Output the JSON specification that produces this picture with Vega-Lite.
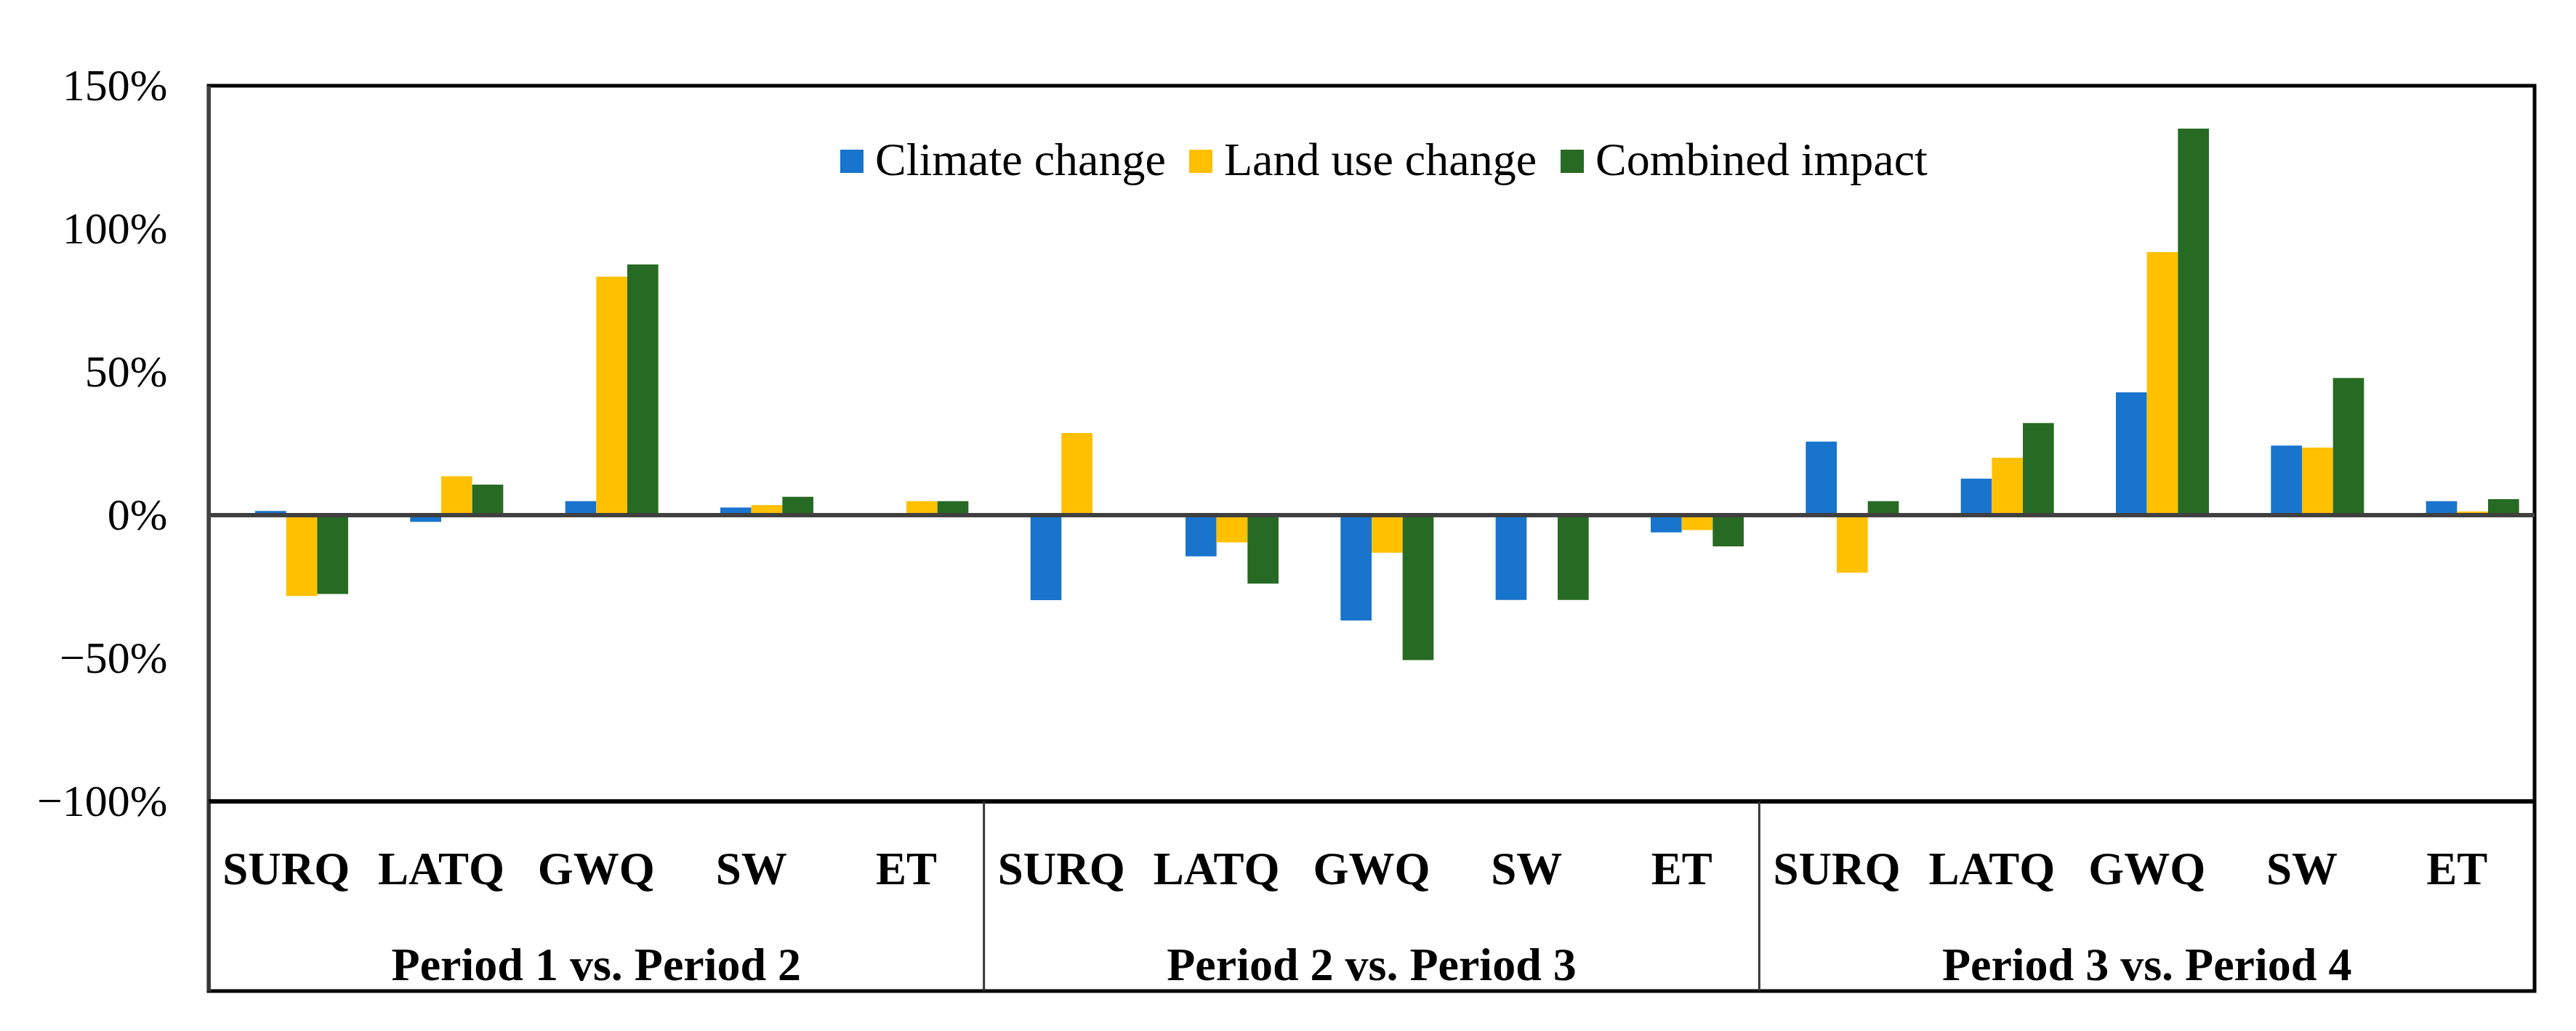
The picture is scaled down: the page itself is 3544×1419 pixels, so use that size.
{
  "$schema": "https://vega.github.io/schema/vega-lite/v6.json",
  "width": 3200,
  "height": 1246,
  "autosize": {"type": "none"},
  "padding": {"left": 287, "top": 118, "right": 57, "bottom": 55},
  "background": "white",
  "config": {"font": "Liberation Serif", "view": {"stroke": "black", "strokeWidth": 5}},
  "datasets": {
    "bars": [
      {"period": "Period 1 vs. Period 2", "category": "P1 SURQ", "series": "Climate change", "value": 1.5},
      {"period": "Period 1 vs. Period 2", "category": "P1 SURQ", "series": "Land use change", "value": -28.2},
      {"period": "Period 1 vs. Period 2", "category": "P1 SURQ", "series": "Combined impact", "value": -27.5},
      {"period": "Period 1 vs. Period 2", "category": "P1 LATQ", "series": "Climate change", "value": -2.3},
      {"period": "Period 1 vs. Period 2", "category": "P1 LATQ", "series": "Land use change", "value": 13.6},
      {"period": "Period 1 vs. Period 2", "category": "P1 LATQ", "series": "Combined impact", "value": 10.7},
      {"period": "Period 1 vs. Period 2", "category": "P1 GWQ", "series": "Climate change", "value": 4.9},
      {"period": "Period 1 vs. Period 2", "category": "P1 GWQ", "series": "Land use change", "value": 83.3},
      {"period": "Period 1 vs. Period 2", "category": "P1 GWQ", "series": "Combined impact", "value": 87.6},
      {"period": "Period 1 vs. Period 2", "category": "P1 SW", "series": "Climate change", "value": 2.7},
      {"period": "Period 1 vs. Period 2", "category": "P1 SW", "series": "Land use change", "value": 3.5},
      {"period": "Period 1 vs. Period 2", "category": "P1 SW", "series": "Combined impact", "value": 6.4},
      {"period": "Period 1 vs. Period 2", "category": "P1 ET", "series": "Climate change", "value": 0.2},
      {"period": "Period 1 vs. Period 2", "category": "P1 ET", "series": "Land use change", "value": 4.9},
      {"period": "Period 1 vs. Period 2", "category": "P1 ET", "series": "Combined impact", "value": 4.9},
      {"period": "Period 2 vs. Period 3", "category": "P2 SURQ", "series": "Climate change", "value": -29.7},
      {"period": "Period 2 vs. Period 3", "category": "P2 SURQ", "series": "Land use change", "value": 28.7},
      {"period": "Period 2 vs. Period 3", "category": "P2 SURQ", "series": "Combined impact", "value": 0},
      {"period": "Period 2 vs. Period 3", "category": "P2 LATQ", "series": "Climate change", "value": -14.4},
      {"period": "Period 2 vs. Period 3", "category": "P2 LATQ", "series": "Land use change", "value": -9.5},
      {"period": "Period 2 vs. Period 3", "category": "P2 LATQ", "series": "Combined impact", "value": -23.9},
      {"period": "Period 2 vs. Period 3", "category": "P2 GWQ", "series": "Climate change", "value": -36.8},
      {"period": "Period 2 vs. Period 3", "category": "P2 GWQ", "series": "Land use change", "value": -13.1},
      {"period": "Period 2 vs. Period 3", "category": "P2 GWQ", "series": "Combined impact", "value": -50.6},
      {"period": "Period 2 vs. Period 3", "category": "P2 SW", "series": "Climate change", "value": -29.6},
      {"period": "Period 2 vs. Period 3", "category": "P2 SW", "series": "Land use change", "value": 0},
      {"period": "Period 2 vs. Period 3", "category": "P2 SW", "series": "Combined impact", "value": -29.6},
      {"period": "Period 2 vs. Period 3", "category": "P2 ET", "series": "Climate change", "value": -6.0},
      {"period": "Period 2 vs. Period 3", "category": "P2 ET", "series": "Land use change", "value": -5.2},
      {"period": "Period 2 vs. Period 3", "category": "P2 ET", "series": "Combined impact", "value": -10.9},
      {"period": "Period 3 vs. Period 4", "category": "P3 SURQ", "series": "Climate change", "value": 25.7},
      {"period": "Period 3 vs. Period 4", "category": "P3 SURQ", "series": "Land use change", "value": -20.1},
      {"period": "Period 3 vs. Period 4", "category": "P3 SURQ", "series": "Combined impact", "value": 4.9},
      {"period": "Period 3 vs. Period 4", "category": "P3 LATQ", "series": "Climate change", "value": 12.8},
      {"period": "Period 3 vs. Period 4", "category": "P3 LATQ", "series": "Land use change", "value": 20.1},
      {"period": "Period 3 vs. Period 4", "category": "P3 LATQ", "series": "Combined impact", "value": 32.2},
      {"period": "Period 3 vs. Period 4", "category": "P3 GWQ", "series": "Climate change", "value": 42.9},
      {"period": "Period 3 vs. Period 4", "category": "P3 GWQ", "series": "Land use change", "value": 91.9},
      {"period": "Period 3 vs. Period 4", "category": "P3 GWQ", "series": "Combined impact", "value": 135.0},
      {"period": "Period 3 vs. Period 4", "category": "P3 SW", "series": "Climate change", "value": 24.3},
      {"period": "Period 3 vs. Period 4", "category": "P3 SW", "series": "Land use change", "value": 23.6},
      {"period": "Period 3 vs. Period 4", "category": "P3 SW", "series": "Combined impact", "value": 47.9},
      {"period": "Period 3 vs. Period 4", "category": "P3 ET", "series": "Climate change", "value": 4.9},
      {"period": "Period 3 vs. Period 4", "category": "P3 ET", "series": "Land use change", "value": 1.3},
      {"period": "Period 3 vs. Period 4", "category": "P3 ET", "series": "Combined impact", "value": 5.6}
    ],
    "periods": [
      {"period": "Period 1 vs. Period 2"},
      {"period": "Period 2 vs. Period 3"},
      {"period": "Period 3 vs. Period 4"}
    ]
  },
  "layer": [
    {
      "data": {"name": "bars"},
      "mark": {"type": "bar"},
      "encoding": {
        "x": {
          "field": "category",
          "type": "nominal",
          "sort": null,
          "scale": {"paddingInner": 0.2, "paddingOuter": 0.1},
          "axis": {
            "orient": "bottom",
            "title": null,
            "domain": false,
            "ticks": false,
            "grid": false,
            "labelAngle": 0,
            "labelFont": "Liberation Serif",
            "labelFontWeight": "bold",
            "labelFontSize": 63,
            "labelColor": "black",
            "labelBaseline": "middle",
            "labelPadding": -167,
            "labelOverlap": false,
            "labelLimit": 0,
            "labelExpr": "split(datum.label, ' ')[1]"
          }
        },
        "xOffset": {
          "field": "series",
          "type": "nominal",
          "scale": {"domain": ["(none)", "Climate change", "Land use change", "Combined impact"], "paddingInner": 0, "paddingOuter": 0}
        },
        "y": {
          "field": "value",
          "type": "quantitative",
          "scale": {"domain": [-166.2, 150], "nice": false, "zero": false},
          "axis": {
            "title": null,
            "values": [-100, -50, 0, 50, 100, 150],
            "grid": false,
            "ticks": false,
            "domain": true,
            "domainColor": "#404040",
            "domainWidth": 5,
            "labelFont": "Liberation Serif",
            "labelFontSize": 62,
            "labelColor": "black",
            "labelPadding": 57,
            "labelExpr": "datum.value < 0 ? '−' + abs(datum.value) + '%' : datum.value + '%'"
          }
        },
        "color": {
          "field": "series",
          "type": "nominal",
          "scale": {"domain": ["Climate change", "Land use change", "Combined impact"], "range": ["#1874CD", "#FFC000", "#276A23"]},
          "legend": {
            "orient": "none",
            "legendX": 853,
            "legendY": 72,
            "direction": "horizontal",
            "title": null,
            "padding": 0,
            "symbolType": "square",
            "symbolSize": 1024,
            "symbolStrokeWidth": 0,
            "symbolOpacity": 1,
            "labelFont": "Liberation Serif",
            "labelFontSize": 64,
            "labelColor": "black",
            "labelOffset": 0,
            "labelLimit": 0,
            "columnPadding": 16
          }
        }
      }
    },
    {
      "data": {"name": "bars"},
      "mark": {"type": "rule", "color": "#404040", "strokeWidth": 5},
      "encoding": {"y": {"datum": 0}}
    },
    {
      "data": {"name": "bars"},
      "mark": {"type": "rule", "color": "black", "strokeWidth": 5},
      "encoding": {"y": {"datum": -100}}
    },
    {
      "data": {"name": "periods"},
      "mark": {"type": "rule", "color": "#333333", "strokeWidth": 3},
      "encoding": {
        "x": {
          "field": "period",
          "type": "nominal",
          "sort": null,
          "bandPosition": 0,
          "scale": {"type": "band", "paddingInner": 0, "paddingOuter": 0},
          "axis": {
            "orient": "bottom",
            "title": null,
            "domain": false,
            "ticks": false,
            "grid": false,
            "labelAngle": 0,
            "labelFont": "Liberation Serif",
            "labelFontWeight": "bold",
            "labelFontSize": 64,
            "labelColor": "black",
            "labelBaseline": "middle",
            "labelPadding": -35,
            "labelOverlap": false,
            "labelLimit": 0
          }
        },
        "y": {"datum": -100},
        "y2": {"datum": -166.2}
      }
    }
  ],
  "resolve": {"scale": {"x": "independent"}, "axis": {"x": "independent"}}
}
